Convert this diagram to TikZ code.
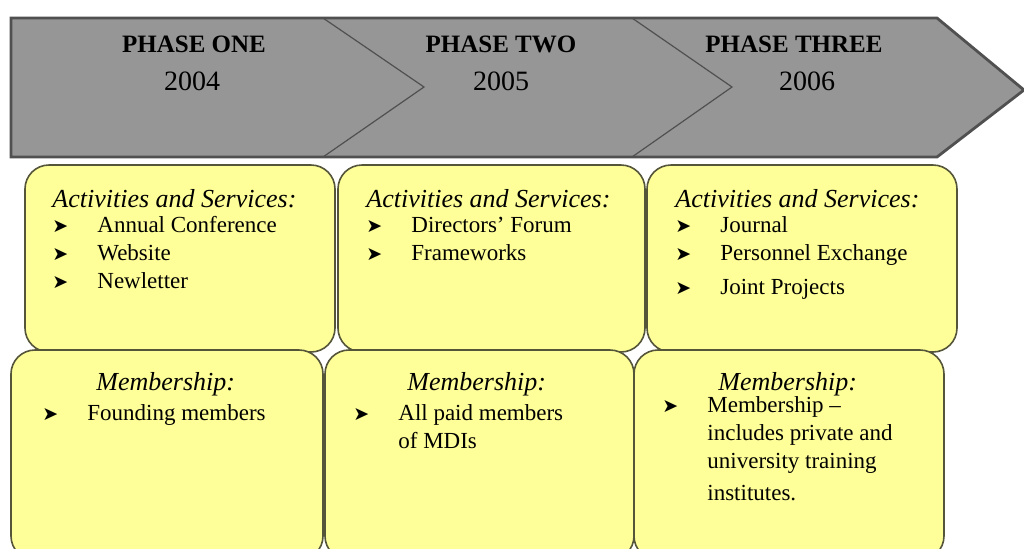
\documentclass[tikz,border=0pt]{standalone}
\usepackage{fontspec}
\setmainfont{Liberation Serif}
\newfontfamily\dingfont{DejaVu Sans}
\usetikzlibrary{fit}

\definecolor{bandfill}{HTML}{969696}
\definecolor{bandline}{HTML}{505050}
\definecolor{cardfill}{HTML}{FFFF99}
\definecolor{cardline}{HTML}{55553A}

% bullet with a fixed indent
\newcommand{\bul}{\makebox[22.5pt][l]{\dingfont\fontsize{9.5}{9.5}\selectfont ➤}}
\newcommand{\ind}{\hspace*{22.5pt}}
\newcommand{\hd}[1]{{\itshape\fontsize{13}{14}\selectfont #1}}
% list block, baseline on its first line
\newenvironment{cardlist}{\begin{tabular}[t]{@{}l@{}}}{\end{tabular}}

\tikzset{
  phase/.style={font=\bfseries\fontsize{12.5}{14}\selectfont, anchor=base},
  year/.style={font=\fontsize{14}{16}\selectfont, anchor=base},
  card/.style={draw=cardline, fill=cardfill, line width=0.8pt, rounded corners=12pt, inner sep=0pt},
  cardtext/.style={anchor=base west, inner sep=0pt, font=\fontsize{11.5}{14}\selectfont},
}

\begin{document}
\begin{tikzpicture}[x=0.5pt,y=-0.5pt]
\useasboundingbox (0,0) rectangle (1024,548);

% the time band
\path[draw=bandline, fill=bandfill, line width=1.4pt, line join=miter]
  (11,18) -- (937,18) -- (1024,90) -- (937,157) -- (11,157) -- cycle;
\path[draw=bandline, line width=0.6pt] (323,18) -- (424,87) -- (323,157);
\path[draw=bandline, line width=0.6pt] (632,18) -- (732,87) -- (632,157);

\node[phase] (p1) at (194,52) {PHASE ONE};
\node[year] (y1) at (192,90) {2004};
\node[phase] (p2) at (501,52) {PHASE TWO};
\node[year] (y2) at (501,90) {2005};
\node[phase] (p3) at (794,52) {PHASE THREE};
\node[year] (y3) at (807,90) {2006};

% activity cards
\node[card, fit={(25,165) (335,352)}] (act1) {};
\node[card, fit={(338,165) (645,352)}] (act2) {};
\node[card, fit={(647,165) (957,352)}] (act3) {};

% membership cards
\node[card, fit={(11,350) (323,560)}] (mem1) {};
\node[card, fit={(325,350) (634,560)}] (mem2) {};
\node[card, fit={(634,350) (944,560)}] (mem3) {};

\node[cardtext] (t1) at (52,207) {\begin{cardlist}\hd{Activities and Services:}\\[-1.5pt]
  \bul Annual Conference\\ \bul Website\\ \bul Newletter\end{cardlist}};
\node[cardtext] (t2) at (366,207) {\begin{cardlist}\hd{Activities and Services:}\\[-1.5pt]
  \bul Directors' Forum\\ \bul Frameworks\end{cardlist}};
\node[cardtext] (t3) at (675,207) {\begin{cardlist}\hd{Activities and Services:}\\[-1.5pt]
  \bul Journal\\ \bul Personnel Exchange\\[3pt] \bul Joint Projects\end{cardlist}};

\node[cardtext] (m1) at (42,390) {\begin{cardlist}\hspace*{27pt}\hd{Membership:}\\[1pt]
  \bul Founding members\end{cardlist}};
\node[cardtext] (m2) at (353,390) {\begin{cardlist}\hspace*{27pt}\hd{Membership:}\\[1pt]
  \bul All paid members\\ \ind of MDIs\end{cardlist}};
\node[cardtext] (m3) at (662,390) {\begin{cardlist}\hspace*{28pt}\hd{Membership:}\\[-3pt]
  \bul Membership --\\ \ind includes private and\\ \ind university training\\[2pt]
  \ind institutes.\end{cardlist}};
\end{tikzpicture}
\end{document}
